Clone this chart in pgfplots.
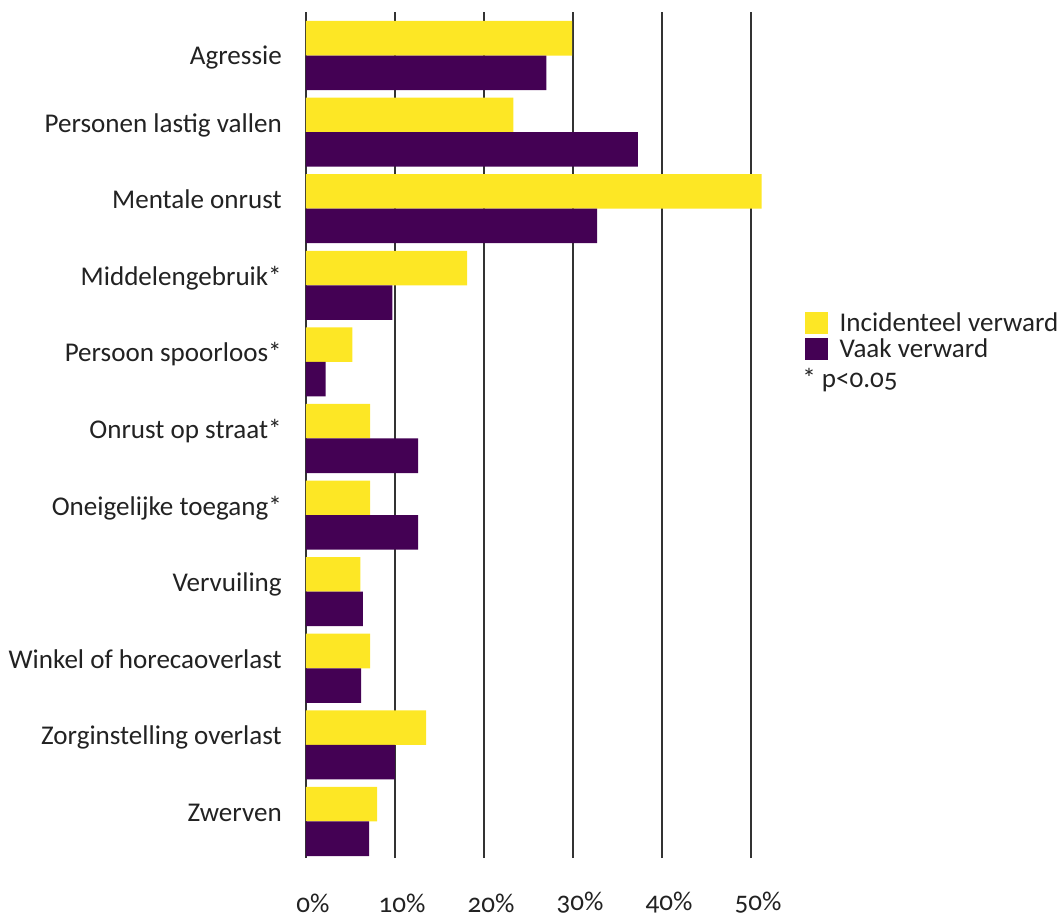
\documentclass[border=0pt]{standalone}
\usepackage{fontspec}
\setmainfont{Carlito}[Numbers=OldStyle]
\usepackage{pgfplots}
\pgfplotsset{compat=1.18}
\definecolor{vyel}{HTML}{FDE725}
\definecolor{vpur}{HTML}{440154}
\definecolor{gridc}{HTML}{333333}
\definecolor{txt}{HTML}{222222}
\begin{document}
\begin{tikzpicture}
\path[use as bounding box] (-229.5pt,-45pt) rectangle (565.5pt,643.5pt);
\begin{axis}[at={(0,0)}, anchor=south west, scale only axis,
  width=347.1pt, height=634.5pt,
  xmin=0, xmax=52, ymin=-0.477, ymax=10.568,
  xbar, bar width=25.9pt,
  xtick={0,10,20,30,40,50}, xticklabels={0\%,10\%,20\%,30\%,40\%,50\%},
  ytick={0,...,10},
  yticklabels={Zwerven, Zorginstelling overlast, Winkel of horecaoverlast, Vervuiling, Oneigelijke toegang*, Onrust op straat*, Persoon spoorloos*, Middelengebruik*, Mentale onrust, Personen lastig vallen, \raisebox{-7.1pt}{Agressie}},
  xmajorgrids, grid style={gridc, line width=1.2pt},
  axis line style={draw=none}, major tick length=0pt,
  tick label style={font=\fontsize{20.3}{22}\selectfont, text=txt},
  xticklabel style={anchor=center, yshift=-33.75pt, xshift=5.25pt},
  yticklabel style={anchor=base east, inner sep=0pt, xshift=-18pt, yshift=0pt},
  legend style={at={(1.0782,0.6480)}, anchor=north west, draw=none, fill=none,
    inner sep=0pt, outer sep=0pt, font=\fontsize{20.3}{22}\selectfont, text=txt,
    row sep=0pt},
  legend cell align=left,
]
\addplot[fill=vyel, draw=none, bar shift=12.95pt,
  legend image code/.code={\fill[vyel] (0pt,-8.25pt) rectangle (17.25pt,8.25pt);}]
  coordinates {(29.9,10) (23.3,9) (51.2,8) (18.1,7) (5.2,6) (7.2,5) (7.2,4) (6.1,3) (7.2,2) (13.5,1) (8.0,0)};
\addplot[fill=vpur, draw=none, bar shift=-12.95pt,
  legend image code/.code={\fill[vpur] (0pt,-8.25pt) rectangle (17.25pt,8.25pt);}]
  coordinates {(27.0,10) (37.3,9) (32.7,8) (9.7,7) (2.2,6) (12.6,5) (12.6,4) (6.4,3) (6.2,2) (10.0,1) (7.1,0)};
\legend{\hspace{6.75pt}Incidenteel verward, \hspace{6.75pt}Vaak verward}
\end{axis}
\node[anchor=west, inner sep=0pt, font=\fontsize{20.3}{22}\selectfont, text=txt] at (372pt,358.5pt) {* p<0.05};
\end{tikzpicture}
\end{document}
